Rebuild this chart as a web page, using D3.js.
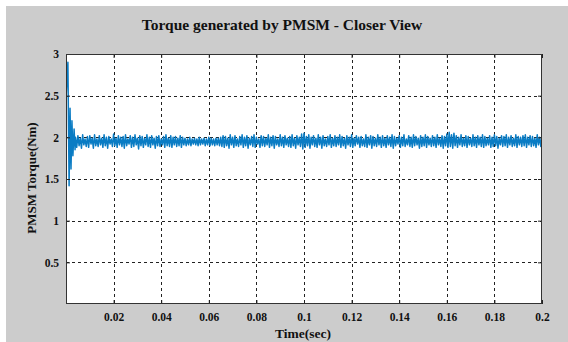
<!DOCTYPE html>
<html><head><meta charset="utf-8">
<script src="https://cdn.jsdelivr.net/npm/d3@7"></script>
<style>body{margin:0;background:#fff}svg{display:block}text{font-family:"Liberation Serif","Times New Roman",serif;font-weight:bold;fill:#111}</style>
</head><body>
<script>
const xTicks = [0.02,0.04,0.06,0.08,0.1,0.12,0.14,0.16,0.18,0.2];
const yTicks = [0.5,1,1.5,2,2.5,3];
const transientTime = [0,0.0001,0.0008,0.0013,0.0017,0.0021,0.0025,0.0029,0.0034,0.0038];
const transientTorque = [0,2.52,2.9,1.42,2.35,1.62,2.2,1.78,2.1,1.85];
const steadyStart = 0.004, steadyStep = 0.0005;
const steadyTorque = [
2.00,1.88,2.02,1.90,1.99,1.87,2.03,1.91,1.98,1.89,2.01,1.88,2.02,1.92,1.99,1.87,2.03,1.90,1.98,1.89,
2.02,1.91,1.99,1.88,2.03,1.90,2.00,1.87,2.01,1.92,1.98,1.89,2.04,1.90,1.99,1.88,2.02,1.91,2.00,1.89,
2.01,1.87,2.03,1.90,1.98,1.92,2.02,1.88,2.00,1.89,2.03,1.91,1.99,1.86,2.02,1.90,2.01,1.88,1.99,1.91,
2.03,1.89,2.00,1.88,2.02,1.91,1.99,1.87,2.01,1.90,2.02,1.89,1.98,1.91,2.01,1.88,2.03,1.90,1.99,1.89,
2.02,1.88,2.00,1.91,2.01,1.89,1.99,1.90,2.02,1.88,2.00,1.91,1.99,1.90,1.98,1.91,2.00,1.90,1.98,1.92,
1.99,1.91,1.98,1.90,2.00,1.91,1.98,1.92,1.99,1.90,1.98,1.91,2.00,1.90,1.99,1.91,1.98,1.90,1.99,1.91,
1.99,1.90,2.00,1.89,2.02,1.88,2.01,1.90,1.99,1.87,2.03,1.91,2.00,1.88,2.02,1.90,1.98,1.89,2.01,1.91,
2.03,1.88,2.00,1.90,2.02,1.87,1.99,1.91,2.01,1.89,2.03,1.88,2.00,1.92,1.98,1.88,2.02,1.90,2.01,1.89,
1.99,1.91,2.03,1.88,2.00,1.90,2.02,1.87,2.01,1.91,1.98,1.89,2.03,1.90,2.00,1.88,2.02,1.91,1.99,1.89,
2.01,1.88,2.03,1.90,1.99,1.87,2.02,1.91,2.00,1.89,2.04,1.86,2.05,1.88,2.01,1.90,2.03,1.87,2.00,1.91,
2.02,1.89,1.99,1.88,2.03,1.91,2.00,1.87,2.02,1.90,1.98,1.89,2.01,1.91,2.03,1.88,1.99,1.90,2.02,1.89,
2.00,1.91,2.03,1.88,2.01,1.90,1.99,1.87,2.02,1.91,2.00,1.89,2.03,1.88,1.99,1.90,2.02,1.92,2.00,1.88,
2.01,1.90,1.98,1.89,2.03,1.88,2.00,1.91,2.02,1.87,2.01,1.90,1.99,1.89,2.03,1.91,2.00,1.88,2.02,1.90,
1.99,1.88,2.02,1.91,2.00,1.89,2.03,1.87,2.01,1.90,1.99,1.92,2.02,1.88,2.00,1.90,2.03,1.89,1.98,1.91,
2.02,1.89,2.00,1.88,2.03,1.90,2.01,1.91,1.99,1.87,2.02,1.89,2.00,1.90,2.03,1.88,2.01,1.91,1.99,1.89,
2.02,1.90,2.00,1.88,2.03,1.91,1.99,1.89,2.02,1.87,2.01,1.90,2.04,1.88,2.06,1.89,2.03,1.87,2.05,1.90,
2.02,1.88,2.00,1.91,2.03,1.89,1.99,1.90,2.02,1.88,2.01,1.91,1.99,1.89,2.03,1.90,2.00,1.88,2.02,1.91,
2.00,1.89,2.03,1.88,2.01,1.90,1.99,1.91,2.02,1.88,2.00,1.89,2.03,1.90,2.01,1.87,1.99,1.91,2.02,1.89,
2.01,1.90,2.03,1.88,2.00,1.91,2.02,1.89,1.99,1.90,2.03,1.88,2.01,1.91,2.00,1.89,2.02,1.90,2.03,1.88,
2.00,1.91,2.02,1.89,2.01,1.90,1.99,1.88,2.03,1.91,2.00,1.89,2.02,1.90,2.01,1.88,2.03,1.91,2.00,1.89
];

const W = 568, H = 342;
const m = {left:66, right:542, top:54, bottom:304};
const svg = d3.select("body").append("svg").attr("width",W).attr("height",H);
svg.append("rect").attr("x",6).attr("y",6).attr("width",W-6).attr("height",H-6).attr("fill","#cccccc");

const x = d3.scaleLinear().domain([0,0.2]).range([m.left,m.right]);
const y = d3.scaleLinear().domain([0,3]).range([m.bottom,m.top]);

svg.append("rect").attr("x",m.left).attr("y",m.top).attr("width",m.right-m.left).attr("height",m.bottom-m.top).attr("fill","#fff");

// grid
const g = svg.append("g");
g.selectAll(".vg").data(xTicks.filter(d=>d<0.2)).join("line")
  .attr("x1",d=>Math.round(x(d))+0.5).attr("x2",d=>Math.round(x(d))+0.5)
  .attr("y1",m.top).attr("y2",m.bottom)
  .attr("stroke","#222").attr("stroke-dasharray","3,3").attr("stroke-width",1);
g.selectAll(".hg").data(yTicks.filter(d=>d<3)).join("line")
  .attr("y1",d=>Math.round(y(d))+0.5).attr("y2",d=>Math.round(y(d))+0.5)
  .attr("x1",m.left).attr("x2",m.right)
  .attr("stroke","#222").attr("stroke-dasharray","3,3").attr("stroke-width",1);

// data
const pts = transientTime.map((t,i)=>[t,transientTorque[i]])
  .concat(steadyTorque.map((v,i)=>[steadyStart+i*steadyStep, v]));
svg.append("clipPath").attr("id","clip").append("rect")
  .attr("x",m.left).attr("y",m.top-20).attr("width",m.right-m.left).attr("height",m.bottom-m.top+20);
svg.append("path").datum(pts).attr("clip-path","url(#clip)")
  .attr("fill","none").attr("stroke","#0a7cc4").attr("stroke-width",1.5).attr("stroke-linejoin","round")
  .attr("d",d3.line().x(d=>x(d[0])).y(d=>y(d[1])));

// axes
const ax = svg.append("g").attr("transform",`translate(0,${m.bottom})`)
  .call(d3.axisBottom(x).tickValues(xTicks).tickSize(-4).tickPadding(9).tickFormat(d3.format("")));
const axT = svg.append("g").attr("transform",`translate(0,${m.top})`)
  .call(d3.axisTop(x).tickValues(xTicks).tickSize(-4).tickFormat(""));
const ay = svg.append("g").attr("transform",`translate(${m.left},0)`)
  .call(d3.axisLeft(y).tickValues(yTicks).tickSize(-4).tickPadding(7).tickFormat(d3.format("")));
const ayR = svg.append("g").attr("transform",`translate(${m.right},0)`)
  .call(d3.axisRight(y).tickValues(yTicks).tickSize(-4).tickFormat(""));
[ax,axT,ay,ayR].forEach(a=>{
  a.select(".domain").remove();
  a.selectAll("line").attr("stroke","#222");
  a.selectAll("text").style("font-family","'Liberation Serif',serif").style("font-weight","bold").style("font-size","11.5px").attr("fill","#111");
});
svg.append("rect").attr("x",m.left+0.5).attr("y",m.top+0.5).attr("width",m.right-m.left-1).attr("height",m.bottom-m.top-1)
  .attr("fill","none").attr("stroke","#333").attr("stroke-width",1);

svg.append("text").attr("x",282).attr("y",30).attr("text-anchor","middle").style("font-size","15.5px")
  .text("Torque generated by PMSM - Closer View");
svg.append("text").attr("x",303).attr("y",338).attr("text-anchor","middle").style("font-size","13.5px")
  .text("Time(sec)");
svg.append("text").attr("transform","translate(36,178) rotate(-90)").attr("text-anchor","middle").style("font-size","13px")
  .text("PMSM Torque(Nm)");
</script>
</body></html>
